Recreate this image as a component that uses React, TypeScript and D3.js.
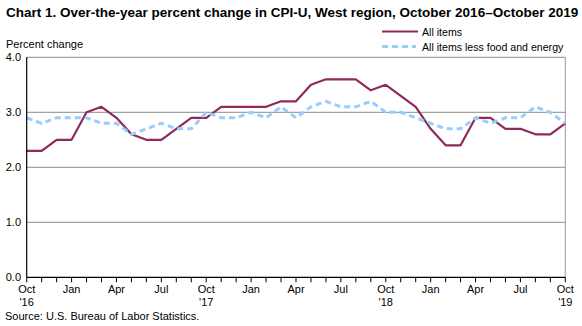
import React from "react";
import * as d3 from "d3";

const months: string[] = [
  "2016-10","2016-11","2016-12","2017-01","2017-02","2017-03","2017-04","2017-05","2017-06","2017-07","2017-08","2017-09",
  "2017-10","2017-11","2017-12","2018-01","2018-02","2018-03","2018-04","2018-05","2018-06","2018-07","2018-08","2018-09",
  "2018-10","2018-11","2018-12","2019-01","2019-02","2019-03","2019-04","2019-05","2019-06","2019-07","2019-08","2019-09","2019-10",
];
const allItems: number[] = [
  2.3, 2.3, 2.5, 2.5, 3.0, 3.1, 2.9, 2.6, 2.5, 2.5, 2.7, 2.9,
  2.9, 3.1, 3.1, 3.1, 3.1, 3.2, 3.2, 3.5, 3.6, 3.6, 3.6, 3.4,
  3.5, 3.3, 3.1, 2.7, 2.4, 2.4, 2.9, 2.9, 2.7, 2.7, 2.6, 2.6, 2.8,
];
const core: number[] = [
  2.9, 2.8, 2.9, 2.9, 2.9, 2.8, 2.8, 2.6, 2.7, 2.8, 2.7, 2.7,
  3.0, 2.9, 2.9, 3.0, 2.9, 3.1, 2.9, 3.1, 3.2, 3.1, 3.1, 3.2,
  3.0, 3.0, 2.9, 2.8, 2.7, 2.7, 2.9, 2.8, 2.9, 2.9, 3.1, 3.0, 2.8,
];
const yTicks: number[] = [0, 1, 2, 3, 4];
const monthAbbr: string[] = ["Jan","Feb","Mar","Apr","May","Jun","Jul","Aug","Sep","Oct","Nov","Dec"];

const FONT = "'Liberation Sans', Arial, sans-serif";

export default function App() {
  const W = 582, H = 326;
  const left = 26.7, right = 565.3, top = 57.3, bottom = 277.3;
  const x = d3.scaleLinear().domain([0, months.length - 1]).range([left, right]);
  const y = d3.scaleLinear().domain([0, 4]).range([bottom, top]);
  const line = d3.line<number>().x((_, i) => x(i)).y((d) => y(d));

  const ticks = months.map((m, i) => {
    const [yr, mo] = m.split("-").map(Number);
    return { i, yr, mo };
  });

  return (
    <svg width={W} height={H} style={{ position: "absolute", left: 0, top: 0, background: "#fff" }} fontFamily={FONT}>
      <rect x={0} y={0} width={W} height={H} fill="#fff" />
      <text x={6} y={17} fontSize={13.5} fontWeight="bold" fill="#000">
        Chart 1. Over-the-year percent change in CPI-U, West region, October 2016–October  2019
      </text>
      {/* legend */}
      <line x1={382} x2={418} y1={31.5} y2={31.5} stroke="#8E2A5C" strokeWidth={2.2} />
      <text x={422} y={36} fontSize={10.6} fill="#000">All items</text>
      <line x1={382} x2={416} y1={46.5} y2={46.5} stroke="#99CCFF" strokeWidth={3} strokeDasharray="6,4" />
      <text x={422} y={50.5} fontSize={10.6} fill="#000">All items less food and energy</text>
      <text x={6} y={48} fontSize={11} fill="#000">Percent change</text>

      {/* gridlines */}
      {yTicks.filter((t) => t > 0).map((t) => (
        <line key={t} x1={left} x2={right} y1={y(t)} y2={y(t)} stroke="#8a8f88" strokeWidth={1} />
      ))}
      <line x1={right} x2={right} y1={top} y2={bottom} stroke="#999" strokeWidth={1} />
      {yTicks.map((t) => (
        <text key={t} x={21} y={y(t) + 4} fontSize={11} textAnchor="end" fill="#000">{t.toFixed(1)}</text>
      ))}

      {/* lines */}
      <path d={line(allItems) || ""} fill="none" stroke="#8E2A5C" strokeWidth={2.2} strokeLinejoin="round" />
      <path d={line(core) || ""} fill="none" stroke="#99CCFF" strokeWidth={3} strokeDasharray="6,4" />

      {/* axes */}
      <line x1={left} x2={left} y1={top} y2={bottom} stroke="#000" strokeWidth={1.2} />
      <line x1={left} x2={right} y1={bottom} y2={bottom} stroke="#000" strokeWidth={1.2} />
      {ticks.map((t) => (
        <line key={t.i} x1={x(t.i)} x2={x(t.i)} y1={bottom} y2={bottom + 5} stroke="#000" strokeWidth={1} />
      ))}
      {ticks.filter((t) => (t.mo - 1) % 3 === 0).map((t) => (
        <text key={"l" + t.i} x={x(t.i)} y={293} fontSize={11} textAnchor="middle" fill="#000">
          {monthAbbr[t.mo - 1]}
        </text>
      ))}
      {ticks.filter((t) => t.mo === 10).map((t) => (
        <text key={"y" + t.i} x={x(t.i)} y={306} fontSize={11} textAnchor="middle" fill="#000">
          {"'" + String(t.yr).slice(2)}
        </text>
      ))}
      <text x={5} y={320} fontSize={11} fill="#000">Source: U.S. Bureau of Labor Statistics.</text>
    </svg>
  );
}
